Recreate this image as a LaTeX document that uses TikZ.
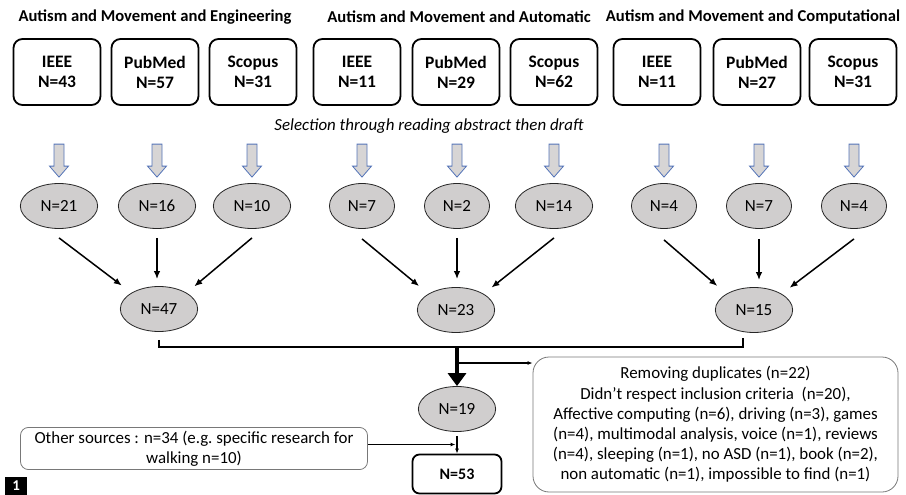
\documentclass[tikz,border=0pt]{standalone}
\usepackage{fontspec}
\setmainfont{Carlito}
\usetikzlibrary{shapes.geometric,arrows.meta}
\definecolor{hitgray}{RGB}{208,206,206}
\definecolor{arrowblue}{RGB}{84,116,184}
\definecolor{framegray}{RGB}{120,120,120}
\tikzstyle{heading} = [font=\fontsize{16.6}{19}\selectfont\bfseries]
\tikzstyle{source} = [draw=black, line width=1.8pt, rounded corners=9pt, minimum width=87pt, minimum height=66pt, align=center, font=\fontsize{17.5}{20}\selectfont\bfseries]
\tikzstyle{hit} = [ellipse, draw=black!85, line width=0.8pt, fill=hitgray, inner xsep=9pt, inner ysep=3pt, minimum height=45pt, font=\fontsize{17}{19}\selectfont]
\tikzstyle{note} = [draw=framegray, line width=0.8pt, align=center, font=\fontsize{16.9}{20.2}\selectfont]
\tikzstyle{link} = [line width=1.5pt, -{Latex[length=8pt,width=6.5pt]}]
\tikzstyle{thinlink} = [line width=1.1pt, -{Latex[length=5pt,width=4pt]}]
\tikzset{selarrow/.pic={\draw[draw=arrowblue, fill=hitgray!85, line width=0.8pt] (-5,0) -- (5,0) -- (5,22) -- (9.5,22) -- (0,33) -- (-9.5,22) -- (-5,22) -- cycle;}}
\newcommand{\src}[4]{\node [source] (#1) at (#2,72) {#3\\N=#4};}
\newcommand{\hitnode}[3]{\node [hit] (#1) at (#2,206) {N=#3};}

\begin{document}
\begin{tikzpicture}[x=1pt, y=-1pt]%
	\useasboundingbox (0,0) rectangle (906,495);%
	\node [heading] (head1) at (155,17) {Autism and Movement and Engineering};%
	\node [heading] (head2) at (459,17) {Autism and Movement and Automatic};%
	\node [heading] (head3) at (753,17) {Autism and Movement and Computational};%
	\src{s11}{57}{IEEE}{43} \src{s12}{155}{PubMed}{57} \src{s13}{253}{Scopus}{31}%
	\src{s21}{357}{IEEE}{11} \src{s22}{456}{PubMed}{29} \src{s23}{554}{Scopus}{62}%
	\src{s31}{657}{IEEE}{11} \src{s32}{757}{PubMed}{27} \src{s33}{853}{Scopus}{31}%
	\node [font=\fontsize{16.9}{19}\selectfont\itshape] (seltext) at (429,126) {Selection through reading abstract then draft};%
	\hitnode{e11}{59}{21} \hitnode{e12}{157}{16} \hitnode{e13}{252}{10}%
	\hitnode{e21}{362}{7} \hitnode{e22}{457}{2} \hitnode{e23}{554}{14}%
	\hitnode{e31}{664}{4} \hitnode{e32}{759}{7} \hitnode{e33}{854}{4}%
	\pic at ([yshift=39pt]e11.north) {selarrow}; \pic at ([yshift=39pt]e12.north) {selarrow}; \pic at ([yshift=39pt]e13.north) {selarrow};%
	\pic at ([yshift=39pt]e21.north) {selarrow}; \pic at ([yshift=39pt]e22.north) {selarrow}; \pic at ([yshift=39pt]e23.north) {selarrow};%
	\pic at ([yshift=39pt]e31.north) {selarrow}; \pic at ([yshift=39pt]e32.north) {selarrow}; \pic at ([yshift=39pt]e33.north) {selarrow};%
	\node [hit] (m1) at (159,309) {N=47};%
	\node [hit] (m2) at (456,310) {N=23};%
	\node [hit] (m3) at (754,310) {N=15};%
	\node [hit] (total) at (457,409) {N=19};%
	\node [source, minimum width=89pt, minimum height=39pt, rounded corners=7pt, font=\fontsize{16}{19}\selectfont\bfseries] (final) at (457,474) {N=53};%
	\node [note, rounded corners=8pt, minimum width=347pt, minimum height=41pt] (other) at (194,448.5) {Other sources : n=34 (e.g.\ specific research for\\walking n=10)};%
	\node [note, rounded corners=16pt, minimum width=365pt, minimum height=135pt] (removed) at (715.5,424.5) {Removing duplicates (n=22)\\Didn’t respect inclusion criteria~ (n=20),\\Affective computing (n=6), driving (n=3), games\\(n=4), multimodal analysis, voice (n=1), reviews\\(n=4), sleeping (n=1), no ASD (n=1), book (n=2),\\non automatic (n=1), impossible to find (n=1)};%
	\node [fill=black, text=white, font=\fontsize{15}{15}\selectfont\bfseries, minimum width=22pt, minimum height=18pt, inner sep=0pt, anchor=south west] (fignum) at (5,495) {1};%
	\draw [link, shorten >=12pt] ([yshift=-9pt]e11.south) -- (m1.north west);%
	\draw [link, shorten >=7pt] ([yshift=-9pt]e12.south) -- (e12.south |- m1.north);%
	\draw [link, shorten >=10pt] ([yshift=-9pt]e13.south) -- (m1.north east);%
	\draw [link, shorten >=12pt] ([yshift=-10pt]e21.south) -- (m2.north west);%
	\draw [link, shorten >=8pt] ([yshift=-9pt]e22.south) -- (e22.south |- m2.north);%
	\draw [link, shorten >=10pt] ([yshift=-9pt]e23.south) -- (m2.north east);%
	\draw [link, shorten >=12pt] ([yshift=-11pt]e31.south) -- (m3.north west);%
	\draw [link, shorten >=7pt] ([yshift=-10pt]e32.south) -- (e32.south |- m3.north);%
	\draw [link, shorten >=10pt] ([yshift=-10pt]e33.south) -- (m3.north east);%
	\coordinate (bus) at (total.north |- 0,347);%
	\coordinate (split) at (total.north |- 0,363);%
	\coordinate (otherout) at ([yshift=4pt]other.east);%
	\draw [line width=1.5pt] ([yshift=-8pt]m1.south) -- (m1.south |- bus) -| ([xshift=-11pt,yshift=-5pt]m3.south);%
	\draw [line width=4pt, -{Triangle[length=13pt,width=18pt]}] (bus) -- (total.north);%
	\draw [thinlink] (split) -- (removed.west |- split);%
	\draw [thinlink, shorten >=1.5pt] (otherout) -- (total.south |- otherout);%
	\draw [thinlink] ([yshift=-4pt]total.south) -- (final.north);%
\end{tikzpicture}
\end{document}
